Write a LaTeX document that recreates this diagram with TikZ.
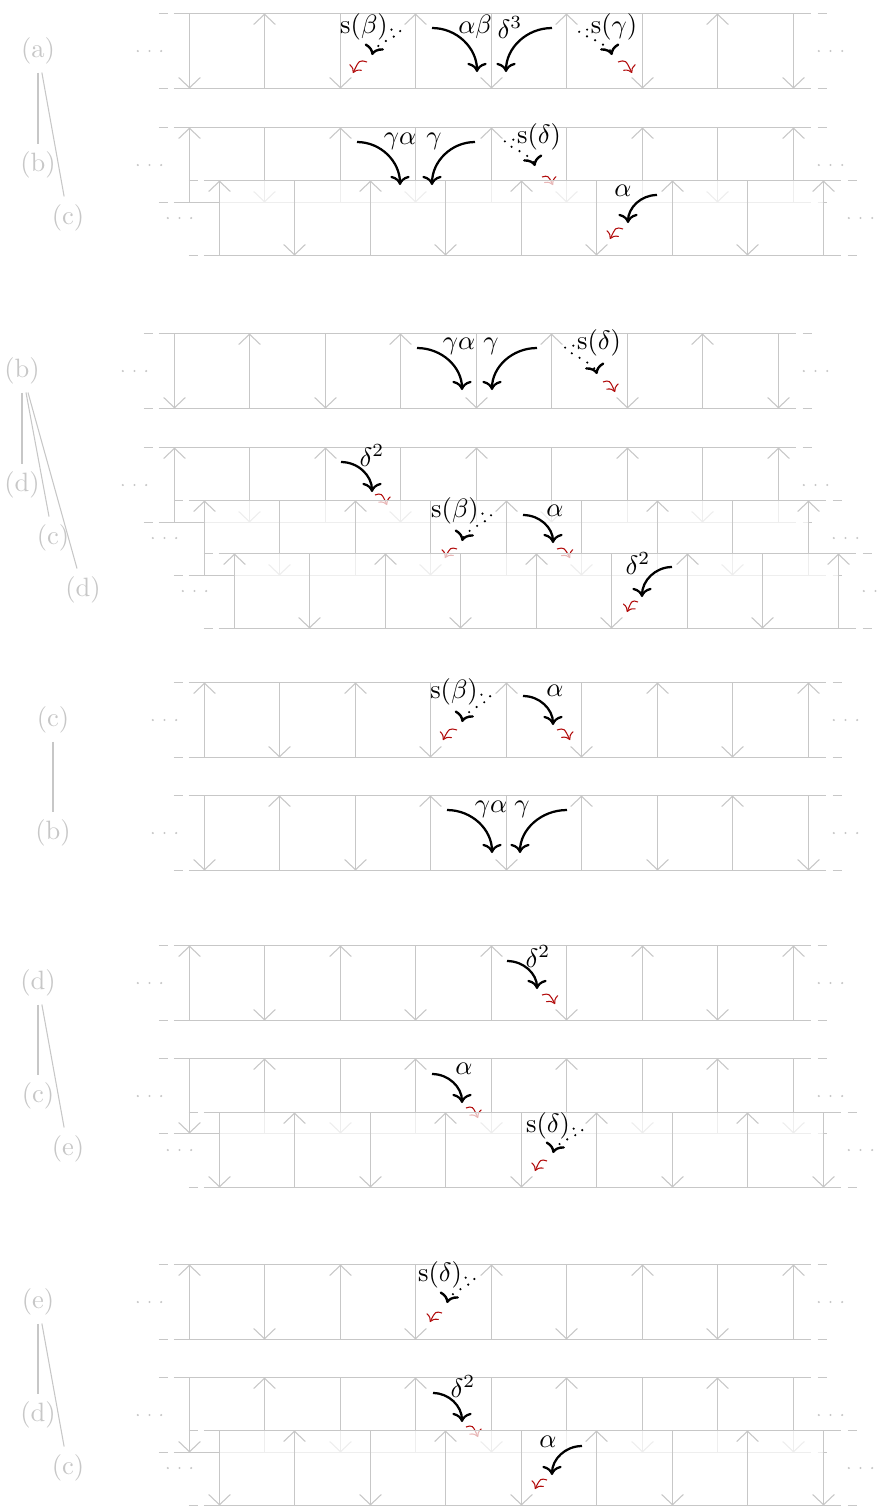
\documentclass[tikz,border=0pt]{standalone}
\usetikzlibrary{arrows.meta}
\definecolor{lg}{gray}{0.78}
\definecolor{dred}{rgb}{0.7,0.05,0.05}
\tikzset{
  strip/.style={draw=lg, line width=0.4pt},
  vtip/.style={-{Straight Barb[length=3.9pt,width=8.2pt]}},
  blk/.style={line width=0.85pt, ->},
  dotarr/.style={line width=0.9pt, ->, line cap=round, dash pattern=on 0pt off 3.4pt},
  redarr/.style={dred, line width=0.4pt, ->},
  lab/.style={inner sep=0pt, font=\normalsize},
  sec/.style={text=lg, inner sep=2.9pt, font=\normalsize},
  secline/.style={draw=lg, line width=0.4pt},
  coverfill/.style={fill=white, fill opacity=0.7},
}
% strip: #1 x0, #2 top, #3 first arrow (0 down, 1 up), #4 cover fill
\newcommand{\mkstrip}[4]{%
  \pgfmathsetmacro{\sxl}{#1+0.5}%
  \pgfmathsetmacro{\sxr}{#1+604.5}%
  \pgfmathsetmacro{\syt}{#2+0.5}%
  \pgfmathsetmacro{\syb}{#2+75.5}%
  \pgfmathsetmacro{\sym}{#2+38}%
  \ifnum#4=1 \fill[coverfill] (\sxl,\syt) rectangle (\sxr,\syb);\fi
  \draw[strip] (\sxl-16,\syt) -- (\sxr+17,\syt) (\sxl-16,\syb) -- (\sxr+17,\syb);
  \draw[strip] (\sxl-31,\syt) -- (\sxl-22,\syt) (\sxl-31,\syb) -- (\sxl-22,\syb)
     (\sxr+24,\syt) -- (\sxr+33,\syt) (\sxr+24,\syb) -- (\sxr+33,\syb);
  \foreach \i in {0,...,8} {
    \pgfmathsetmacro{\vx}{floor(#1+75.5*\i)+0.5}
    \pgfmathtruncatemacro{\up}{mod(\i+#3,2)}
    \ifnum\up=1 \draw[strip,vtip] (\vx,\syb) -- (\vx,\syt);
    \else \draw[strip,vtip] (\vx,\syt) -- (\vx,\syb); \fi
  }
  \foreach \dx in {-11.7,0,11.7} {
    \fill[lg] (\sxl-40+\dx,\sym) circle[radius=0.45pt];
    \fill[lg] (\sxr+37+\dx,\sym) circle[radius=0.45pt];
  }
}
% black arrow: name sx sy ex ey label lx ly(south)
\newcommand{\mkblk}[8]{%
  \coordinate (#1s) at (#2,#3); \coordinate (#1e) at (#4,#5);
  \draw[blk] (#1s) .. controls ({#2+0.55*(#4-#2)},#3) and (#4,{#5-0.55*(#5-#3)}) .. (#1e);
  \node[lab, anchor=south] (#1l) at (#7,#8) {#6};
}
% red small arrow: name ax ay bx by
\newcommand{\mkred}[5]{%
  \coordinate (#1a) at (#2,#3); \coordinate (#1b) at (#4,#5);
  \draw[redarr] (#1a) .. controls ({#2+0.55*(#4-#2)},{#3-0.2*(#5-#3)}) .. (#1b);
}
% dotted arrow: name label lx ly tx ty dir
\newcommand{\mkdot}[7]{%
  \node[lab] (#1l) at (#3,#4) {#2};
  \coordinate (#1t) at (#5,#6);
  \ifnum#7=1
    \draw[dotarr] ([xshift=1.2pt,yshift=-1pt]#1l.east) .. controls +(27,0) and +(4,-14) .. (#1t);
  \else
    \draw[dotarr] ([xshift=-1.2pt,yshift=-1pt]#1l.west) .. controls +(-27,0) and +(-4,-14) .. (#1t);
  \fi
}
\begin{document}
\begin{tikzpicture}[x=0.01325cm, y=-0.01325cm]
\useasboundingbox (0,0) rectangle (884,1506);

% ---------- section 1
\mkstrip{189}{13}{0}{0}
\mkred{ra3}{367}{62}{353}{73}
\mkred{ra4}{618}{62}{632}{73}
\mkstrip{189}{127}{1}{0}
\mkred{rb3}{542}{177}{553}{185}
\mkstrip{219}{180}{1}{1}
\mkred{rc1}{623}{229}{610}{239}

\node[sec] (s1a) at (38,51) {(a)};
\node[sec] (s1b) at (38,165) {(b)};
\node[sec] (s1c) at (68,218) {(c)};
\draw[secline] (s1a) -- (s1b);
\draw[secline] (s1a) -- (s1c);

\mkblk{a1}{432}{28}{477}{72}{$\alpha\beta$}{475}{39}
\mkblk{a2}{552}{28}{506}{72}{$\delta^3$}{510}{39}
\mkdot{a3}{s$(\beta)$}{364}{27}{372}{55}{1}
\mkdot{a4}{s$(\gamma)$}{614}{27}{612}{55}{-1}
\mkblk{b1}{357}{142}{400}{185}{$\gamma\alpha$}{400}{150}
\mkblk{b2}{475}{142}{432}{185}{$\gamma$}{434}{150}
\mkdot{b3}{s$(\delta)$}{539}{137}{535}{166}{-1}
\mkblk{c1}{657}{195}{628}{223}{$\alpha$}{623}{197}

% ---------- section 2
\mkstrip{174}{333}{0}{0}
\mkred{rd3}{603}{382}{615}{392}
\mkstrip{174}{447}{1}{0}
\mkred{re1}{375}{495}{387}{505}
\mkstrip{204}{500}{1}{1}
\mkred{rf1}{457}{549}{445}{558}
\mkred{rf2}{557}{549}{570}{558}
\mkstrip{234}{553}{1}{1}
\mkred{rg1}{638}{602}{627}{612}

\node[sec] (s2b) at (22,371) {(b)};
\node[sec] (s2d) at (22,485) {(d)};
\node[sec] (s2c) at (53,538) {(c)};
\node[sec] (s2e) at (83,590) {(d)};
\draw[secline] (s2b) -- (s2d);
\draw[secline] (s2b) -- (s2c);
\draw[secline] (s2b) -- (s2e);

\mkblk{d1}{417}{348}{462}{390}{$\gamma\alpha$}{459}{355}
\mkblk{d2}{537}{348}{492}{390}{$\gamma$}{491}{355}
\mkdot{d3}{s$(\delta)$}{599}{343}{597}{374}{-1}
\mkblk{e1}{341}{462}{372}{492}{$\delta^2$}{372}{467}
\mkdot{f1}{s$(\beta)$}{455}{511}{462}{541}{1}
\mkblk{f2}{523}{515}{553}{543}{$\alpha$}{555}{517}
\mkblk{g1}{672}{567}{642}{597}{$\delta^2$}{638}{575}

% ---------- section 3
\mkstrip{204}{682}{1}{0}
\mkred{rh1}{457}{730}{443}{740}
\mkred{rh2}{557}{730}{570}{740}
\mkstrip{204}{795}{0}{0}

\node[sec] (s3c) at (53,720) {(c)};
\node[sec] (s3b) at (53,833) {(b)};
\draw[secline] (s3c) -- (s3b);

\mkdot{h1}{s$(\beta)$}{454}{692}{462}{722}{1}
\mkblk{h2}{523}{696}{553}{725}{$\alpha$}{555}{697}
\mkblk{i1}{447}{810}{492}{853}{$\gamma\alpha$}{491}{818}
\mkblk{i2}{567}{810}{520}{853}{$\gamma$}{522}{818}

% ---------- section 4
\mkstrip{189}{945}{1}{0}
\mkred{rj1}{542}{995}{555}{1004}
\mkstrip{189}{1058}{0}{0}
\mkred{rk1}{466}{1108}{478}{1118}
\mkstrip{219}{1112}{0}{1}
\mkred{rl1}{547}{1161}{535}{1171}

\node[sec] (s4d) at (38,983) {(d)};
\node[sec] (s4c) at (38,1096) {(c)};
\node[sec] (s4e) at (68,1149) {(e)};
\draw[secline] (s4d) -- (s4c);
\draw[secline] (s4d) -- (s4e);

\mkblk{j1}{507}{961}{537}{989}{$\delta^2$}{538}{968}
\mkblk{k1}{432}{1074}{462}{1103}{$\alpha$}{464}{1075}
\mkdot{l1}{s$(\delta)$}{548}{1126}{553}{1153}{1}

% ---------- section 5
\mkstrip{189}{1264}{1}{0}
\mkred{rm1}{442}{1313}{430}{1322}
\mkstrip{189}{1377}{0}{0}
\mkred{rn1}{466}{1427}{478}{1437}
\mkstrip{219}{1430}{0}{1}
\mkred{ro1}{547}{1480}{535}{1489}

\node[sec] (s5e) at (38,1302) {(e)};
\node[sec] (s5d) at (38,1415) {(d)};
\node[sec] (s5c) at (68,1468) {(c)};
\draw[secline] (s5e) -- (s5d);
\draw[secline] (s5e) -- (s5c);

\mkdot{m1}{s$(\delta)$}{440}{1275}{447}{1303}{1}
\mkblk{n1}{433}{1393}{462}{1422}{$\delta^2$}{463}{1398}
\mkblk{o1}{582}{1446}{552}{1475}{$\alpha$}{548}{1448}
\end{tikzpicture}
\end{document}
